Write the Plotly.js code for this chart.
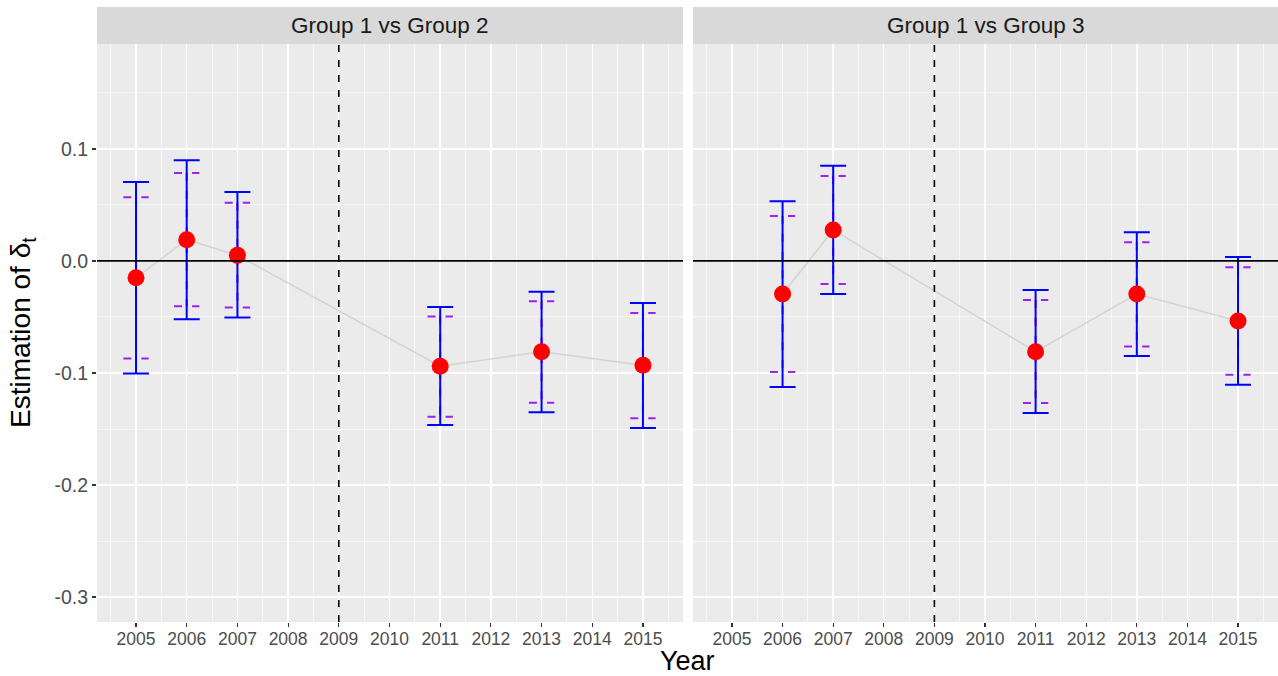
<!DOCTYPE html>
<html>
<head>
<meta charset="utf-8">
<script src="https://cdn.plot.ly/plotly-3.0.1.min.js"></script>
<style>html,body{margin:0;padding:0;background:#fff;}#chart{width:1278px;height:676px;}</style>
</head>
<body>
<div id="chart"></div>
<script>
// ---- Data ----
const panelTitles = ["Group 1 vs Group 2", "Group 1 vs Group 3"];

const years1 = [2005, 2006, 2007, 2011, 2013, 2015];
const est1 = [-0.015, 0.019, 0.005, -0.094, -0.081, -0.093];
const upper95_1 = [0.0705, 0.090, 0.0615, -0.041, -0.0275, -0.0375];
const lower95_1 = [-0.1005, -0.052, -0.0505, -0.1465, -0.135, -0.149];
const upper90_1 = [0.057, 0.0785, 0.052, -0.0495, -0.036, -0.0465];
const lower90_1 = [-0.087, -0.0405, -0.0415, -0.139, -0.1265, -0.1405];

const years2 = [2006, 2007, 2011, 2013, 2015];
const est2 = [-0.0295, 0.0277, -0.081, -0.0295, -0.0536];
const upper95_2 = [0.0533, 0.0851, -0.0259, 0.0256, 0.0036];
const lower95_2 = [-0.1125, -0.0295, -0.1357, -0.0848, -0.1104];
const upper90_2 = [0.0402, 0.0759, -0.0348, 0.0167, -0.0056];
const lower90_2 = [-0.0991, -0.0205, -0.1268, -0.0763, -0.1015];

const yTickVals = [-0.3, -0.2, -0.1, 0.0, 0.1];
const yTickText = ["-0.3", "-0.2", "-0.1", "0.0", "0.1"];
const policyYear = 2009;
const refValue = 0;
const capHalfWidth = 0.25; // error bar half width in years

// ---- Helpers ----
function dashedBars(xs, up, lo, xa, ya) {
  const x = [], y = [];
  xs.forEach((xv, i) => {
    x.push(xv - capHalfWidth, xv + capHalfWidth, null, xv, xv, null, xv - capHalfWidth, xv + capHalfWidth, null);
    y.push(up[i], up[i], null, up[i], lo[i], null, lo[i], lo[i], null);
  });
  return {x, y, xaxis: xa, yaxis: ya, mode: 'lines', type: 'scatter', connectgaps: false,
    line: {color: '#A020F0', width: 2, dash: '8px,10px'}, hoverinfo: 'skip', showlegend: false};
}
function grayLine(xs, ys, xa, ya) {
  return {x: xs, y: ys, xaxis: xa, yaxis: ya, mode: 'lines', type: 'scatter',
    line: {color: '#D3D3D3', width: 1.5}, hoverinfo: 'skip', showlegend: false};
}
function points(xs, ys, up, lo, xa, ya) {
  return {x: xs, y: ys, xaxis: xa, yaxis: ya, mode: 'markers', type: 'scatter',
    marker: {color: '#FF0000', size: 17},
    error_y: {type: 'data', symmetric: false,
      array: up.map((u, i) => u - ys[i]), arrayminus: lo.map((l, i) => ys[i] - l),
      color: '#0000FF', thickness: 2, width: 13},
    showlegend: false};
}

const traces = [
  grayLine(years1, est1, 'x', 'y'),
  dashedBars(years1, upper90_1, lower90_1, 'x', 'y'),
  points(years1, est1, upper95_1, lower95_1, 'x', 'y'),
  grayLine(years2, est2, 'x2', 'y2'),
  dashedBars(years2, upper90_2, lower90_2, 'x2', 'y2'),
  points(years2, est2, upper95_2, lower95_2, 'x2', 'y2')
];

const W = 1278, H = 676;
const ml = 97, mr = 0, mt = 44, mb = 54;
const plotW = W - ml - mr, plotH = H - mt - mb;
const dom1 = [0, 586 / plotW];
const dom2 = [596 / plotW, 1];
const stripH = 37 / plotH;

const font = 'Liberation Sans, Arial, sans-serif';
const xRange = [2004.23, 2015.79];
const yRange = [-0.3223, 0.1937];

function xAxis(dom, anchor) {
  return {domain: dom, anchor: anchor, range: xRange, tickmode: 'linear', tick0: 2005, dtick: 1,
    tickformat: 'd', showgrid: true, gridcolor: '#FFFFFF', gridwidth: 1.4,
    minor: {dtick: 0.5, tick0: 2004.5, showgrid: true, gridcolor: '#FFFFFF', gridwidth: 0.6},
    ticks: 'outside', ticklen: 4, tickcolor: '#333333', tickwidth: 1.2, ticklabelstandoff: -3,
    tickfont: {family: font, size: 17.5, color: '#4D4D4D'}, zeroline: false, showline: false, fixedrange: true};
}
function yAxis(anchor, showLabels) {
  return {domain: [0, 1], anchor: anchor, range: yRange, tickmode: 'array',
    tickvals: yTickVals, ticktext: yTickText, showticklabels: showLabels,
    showgrid: true, gridcolor: '#FFFFFF', gridwidth: 1.4,
    minor: {dtick: 0.05, tick0: 0, showgrid: true, gridcolor: '#FFFFFF', gridwidth: 0.6},
    ticks: showLabels ? 'outside' : '', ticklen: 4, tickcolor: '#333333', tickwidth: 1.2,
    tickfont: {family: font, size: 19.5, color: '#4D4D4D'}, zeroline: false, showline: false, fixedrange: true};
}

const shapes = [];
const annotations = [];
[[dom1, 'x', 'y'], [dom2, 'x2', 'y2']].forEach(([dom, xa, ya], k) => {
  shapes.push({type: 'rect', xref: 'paper', yref: 'paper', x0: dom[0], x1: dom[1], y0: 1, y1: 1 + stripH,
    fillcolor: '#D9D9D9', line: {width: 0}, layer: 'below'});
  shapes.push({type: 'line', xref: xa, yref: ya, x0: xRange[0], x1: xRange[1], y0: refValue, y1: refValue,
    line: {color: '#000000', width: 1.7}, layer: 'above'});
  shapes.push({type: 'line', xref: xa, yref: ya + ' domain', x0: policyYear, x1: policyYear, y0: 0, y1: 1,
    line: {color: '#000000', width: 1.6, dash: '7px,8px'}, layer: 'above'});
  annotations.push({xref: 'paper', yref: 'paper', x: (dom[0] + dom[1]) / 2, y: 1 + stripH / 2,
    xanchor: 'center', yanchor: 'middle', showarrow: false, text: panelTitles[k],
    font: {family: font, size: 22.5, color: '#1A1A1A'}});
});
annotations.push({xref: 'paper', yref: 'paper', x: 0.5, y: -(661 - (mt + plotH)) / plotH,
  xanchor: 'center', yanchor: 'middle', showarrow: false, text: 'Year',
  font: {family: font, size: 27, color: '#000000'}});
annotations.push({xref: 'paper', yref: 'paper', x: (22 - ml) / plotW, y: 0.5,
  xanchor: 'center', yanchor: 'middle', showarrow: false, textangle: -90,
  text: 'Estimation of δ<sub>t</sub>', font: {family: font, size: 28, color: '#000000'}});

const layout = {
  width: W, height: H, margin: {l: ml, r: mr, t: mt, b: mb},
  paper_bgcolor: '#FFFFFF', plot_bgcolor: '#EBEBEB', showlegend: false,
  xaxis: xAxis(dom1, 'y'), yaxis: yAxis('x', true),
  xaxis2: xAxis(dom2, 'y2'), yaxis2: yAxis('x2', false),
  shapes: shapes, annotations: annotations, hovermode: false
};

Plotly.newPlot('chart', traces, layout, {displayModeBar: false, staticPlot: true});
</script>
</body>
</html>
